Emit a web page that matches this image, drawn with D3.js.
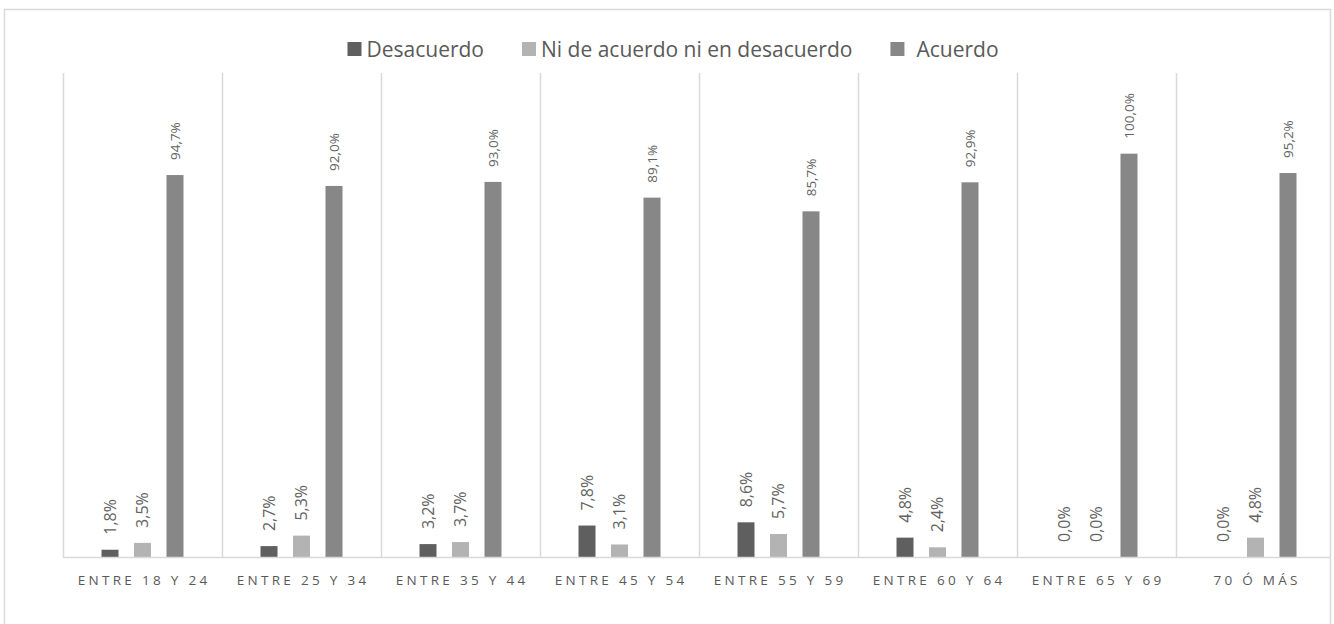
<!DOCTYPE html>
<html>
<head>
<meta charset="utf-8">
<script src="https://cdn.jsdelivr.net/npm/d3@7"></script>
<style>
  html, body { margin: 0; padding: 0; background: #ffffff; }
  svg { display: block; }
</style>
</head>
<body>
<svg id="chart" width="1334" height="624"></svg>
<script>
// Age groups on the x axis
const categories = ["Entre 18 y 24", "Entre 25 y 34", "Entre 35 y 44", "Entre 45 y 54",
                    "Entre 55 y 59", "Entre 60 y 64", "Entre 65 y 69", "70 ó más"];
// Series names, in legend order
const seriesNames = ["Desacuerdo", "Ni de acuerdo ni en desacuerdo", "Acuerdo"];
// Percentages per age group
const desacuerdo = [1.8, 2.7, 3.2, 7.8, 8.6, 4.8, 0.0, 0.0];
const neutral    = [3.5, 5.3, 3.7, 3.1, 5.7, 2.4, 0.0, 4.8];
const acuerdo    = [94.7, 92.0, 93.0, 89.1, 85.7, 92.9, 100.0, 95.2];

const seriesValues = [desacuerdo, neutral, acuerdo];
const colors = ["#5f5f5f", "#b3b3b3", "#878787"];
const labelSizes = [16, 16, 13.5];

const svg = d3.select("#chart");
const plot = { left: 63, top: 73, bottom: 557, step: 159 };

const fmt = v => v.toFixed(1).replace(".", ",") + "%";

// Outer chart frame
svg.append("rect")
  .attr("x", 4.5).attr("y", 9.5)
  .attr("width", 1326).attr("height", 640)
  .attr("fill", "none").attr("stroke", "#d9d9d9").attr("stroke-width", 1.5);

svg.append("clipPath").attr("id", "frame")
  .append("rect").attr("x", 5).attr("y", 10).attr("width", 1325).attr("height", 620);

const g = svg.append("g").attr("clip-path", "url(#frame)");

const x0 = d3.scaleBand()
  .domain(categories)
  .range([plot.left, plot.left + plot.step * categories.length])
  .paddingInner(0).paddingOuter(0);

const x1 = d3.scaleBand()
  .domain(seriesNames)
  .range([0, x0.bandwidth()])
  .paddingInner(0.477)
  .paddingOuter(1.185);

const y = d3.scaleLinear().domain([0, 120]).range([plot.bottom, plot.top]);

// Vertical category separators
const seps = categories.map(c => x0(c)).concat([x0.range()[1]]);
g.selectAll("line.sep")
  .data(seps)
  .join("line")
  .attr("class", "sep")
  .attr("x1", d => d + 0.5).attr("x2", d => d + 0.5)
  .attr("y1", plot.top).attr("y2", plot.bottom)
  .attr("stroke", "#d9d9d9").attr("stroke-width", 1.5);

// Bars
const rows = [];
categories.forEach((c, i) => {
  seriesNames.forEach((s, j) => {
    rows.push({ cat: c, series: s, j: j, value: seriesValues[j][i] });
  });
});

const cells = g.selectAll("g.cell")
  .data(rows)
  .join("g")
  .attr("class", "cell");

cells.append("rect")
  .attr("x", d => x0(d.cat) + x1(d.series))
  .attr("y", d => y(d.value))
  .attr("width", x1.bandwidth())
  .attr("height", d => y(0) - y(d.value))
  .attr("fill", d => colors[d.j]);

// Rotated value labels above each bar
cells.append("text")
  .attr("transform", d => {
    const cx = x0(d.cat) + x1(d.series) + x1.bandwidth() / 2;
    const ty = y(d.value) - 15;
    return `translate(${cx},${ty}) rotate(-90)`;
  })
  .attr("dy", "0.35em")
  .attr("text-anchor", "start")
  .attr("font-family", "'Open Sans', sans-serif")
  .attr("font-size", d => labelSizes[d.j])
  .attr("fill", "#626262")
  .text(d => fmt(d.value));

// Horizontal axis
const xAxis = d3.axisBottom(x0).tickSize(0).tickPadding(0)
  .tickFormat(d => d.toUpperCase());
const axisG = g.append("g")
  .attr("transform", `translate(0,${plot.bottom})`)
  .call(xAxis);
axisG.select(".domain")
  .attr("d", `M${plot.left},0.5H${x0.range()[1]}`)
  .attr("stroke", "#d9d9d9").attr("stroke-width", 1.5);
axisG.selectAll(".tick text")
  .attr("y", 28)
  .attr("dy", 0)
  .attr("dx", 1.6)
  .attr("font-family", "'Open Sans', sans-serif")
  .attr("font-size", 13.5)
  .attr("letter-spacing", "3.3px")
  .attr("fill", "#595959");

// Legend
const legend = svg.append("g");
const items = legend.selectAll("g.item")
  .data(seriesNames)
  .join("g")
  .attr("class", "item");
items.append("rect")
  .attr("width", 14).attr("height", 14)
  .attr("y", 42)
  .attr("fill", (d, i) => colors[i]);
items.append("text")
  .attr("y", 56.5)
  .attr("font-family", "'Open Sans', sans-serif")
  .attr("font-size", 21)
  .attr("fill", "#595959")
  .text(d => d);

const gaps = [5, 5, 12];
let cursor = 0;
items.each(function(d, i) {
  const t = d3.select(this).select("text");
  t.attr("x", 14 + gaps[i]);
  const w = 14 + gaps[i] + t.node().getComputedTextLength();
  d3.select(this).attr("transform", `translate(${cursor},0)`);
  cursor += w + 38;
});
const total = cursor - 38;
legend.attr("transform", `translate(${673 - total / 2},0)`);
</script>
</body>
</html>
